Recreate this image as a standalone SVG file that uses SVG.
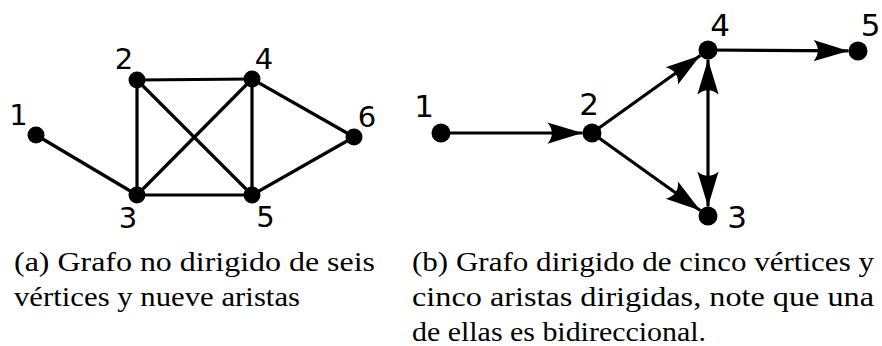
<svg xmlns="http://www.w3.org/2000/svg" width="882" height="346" viewBox="0 0 882 346">
<style>
.edge{stroke:#000;stroke-width:3.2;fill:none}
.node{fill:#000}
.lbl{font-family:"DejaVu Sans",sans-serif;fill:#000;text-anchor:middle}
.la{font-size:29px}
.lb{font-size:31px}
.cap{font-family:"Liberation Serif","Times New Roman",serif;font-size:28px;fill:#000}
</style>
<defs>
<marker id="arr" markerUnits="userSpaceOnUse" markerWidth="40" markerHeight="30" viewBox="-30 -10 32 20" refX="0" refY="0" orient="auto-start-reverse">
<path d="M0,0 L-28,-8.5 Q-21,0 -28,8.5 Z" fill="#000"/>
</marker>
</defs>
<rect width="882" height="346" fill="#fff"/>
<g id="connectors">
<g id="edges-a">
<line class="edge" x1="36" y1="135" x2="137" y2="195"/>
<line class="edge" x1="137" y1="80" x2="252" y2="79"/>
<line class="edge" x1="137" y1="80" x2="137" y2="195"/>
<line class="edge" x1="137" y1="80" x2="252" y2="195"/>
<line class="edge" x1="137" y1="195" x2="252" y2="79"/>
<line class="edge" x1="137" y1="195" x2="252" y2="195"/>
<line class="edge" x1="252" y1="79" x2="252" y2="195"/>
<line class="edge" x1="252" y1="79" x2="354" y2="137"/>
<line class="edge" x1="252" y1="195" x2="354" y2="137"/>
</g>
<g id="edges-b">
<line class="edge" x1="441" y1="133" x2="582.5" y2="133" marker-end="url(#arr)"/>
<line class="edge" x1="592" y1="133" x2="700.3" y2="55.5" marker-end="url(#arr)"/>
<line class="edge" x1="592" y1="133" x2="700.3" y2="210.5" marker-end="url(#arr)"/>
<line class="edge" x1="708" y1="59.5" x2="708" y2="206.5" marker-start="url(#arr)" marker-end="url(#arr)"/>
<line class="edge" x1="708" y1="50" x2="848.5" y2="50.9" marker-end="url(#arr)"/>
</g>
</g>
<g id="a1"><circle class="node" cx="36" cy="135" r="8.5"/><text class="lbl la" x="18.5" y="125">1</text></g>
<g id="a2"><circle class="node" cx="137" cy="80" r="8.5"/><text class="lbl la" x="124" y="69">2</text></g>
<g id="a3"><circle class="node" cx="137" cy="195" r="8.5"/><text class="lbl la" x="128" y="228">3</text></g>
<g id="a4"><circle class="node" cx="252" cy="79" r="8.5"/><text class="lbl la" x="264" y="69">4</text></g>
<g id="a5"><circle class="node" cx="252" cy="195" r="8.5"/><text class="lbl la" x="265.5" y="227">5</text></g>
<g id="a6"><circle class="node" cx="354" cy="137" r="8.5"/><text class="lbl la" x="367" y="127">6</text></g>
<g id="b1"><circle class="node" cx="441" cy="133" r="9.5"/><text class="lbl lb" x="424" y="117">1</text></g>
<g id="b2"><circle class="node" cx="592" cy="133" r="9.5"/><text class="lbl lb" x="589" y="115">2</text></g>
<g id="b3"><circle class="node" cx="708" cy="216" r="9.5"/><text class="lbl lb" x="737" y="228">3</text></g>
<g id="b4"><circle class="node" cx="708" cy="50" r="9.5"/><text class="lbl lb" x="720" y="36">4</text></g>
<g id="b5"><circle class="node" cx="858" cy="51" r="9.5"/><text class="lbl lb" x="870.5" y="36">5</text></g>
<g id="captions">
<text class="cap" x="14" y="271" textLength="361" lengthAdjust="spacingAndGlyphs">(a) Grafo no dirigido de seis</text>
<text class="cap" x="14" y="306" textLength="286" lengthAdjust="spacingAndGlyphs">vértices y nueve aristas</text>
<text class="cap" x="412" y="271" textLength="462" lengthAdjust="spacingAndGlyphs">(b) Grafo dirigido de cinco vértices y</text>
<text class="cap" x="412" y="306" textLength="462" lengthAdjust="spacingAndGlyphs">cinco aristas dirigidas, note que una</text>
<text class="cap" x="412" y="341" textLength="294" lengthAdjust="spacingAndGlyphs">de ellas es bidireccional.</text>
</g>
</svg>
